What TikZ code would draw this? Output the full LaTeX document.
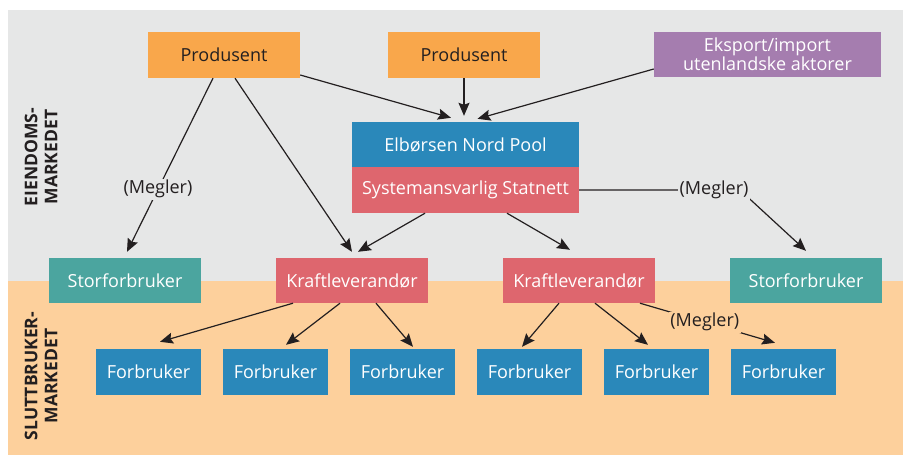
\documentclass[tikz,border=0pt]{standalone}
\usepackage{fontspec}
\setmainfont{Open Sans}
\usetikzlibrary{arrows.meta}

\definecolor{panelgrey}{HTML}{E6E7E7}
\definecolor{panelpeach}{HTML}{FDD09C}
\definecolor{prodorange}{HTML}{F9A74B}
\definecolor{exportpurple}{HTML}{A57DAF}
\definecolor{poolblue}{HTML}{2A88BA}
\definecolor{gridred}{HTML}{DE666E}
\definecolor{bigteal}{HTML}{4BA59F}
\definecolor{inkdark}{HTML}{231F20}

\tikzset{
  box/.style={rectangle, inner sep=0pt, text=white, align=center,
    font=\fontsize{18}{19}\selectfont},
  prodbox/.style={box, fill=prodorange, text=inkdark, minimum width=152pt, minimum height=46pt},
  expbox/.style={box, fill=exportpurple, minimum width=227pt, minimum height=45pt,
    font=\fontsize{18}{16.5}\selectfont},
  poolbox/.style={box, fill=poolblue, minimum width=227pt, minimum height=45pt},
  statbox/.style={box, fill=gridred, minimum width=227pt, minimum height=46pt},
  supbox/.style={box, fill=gridred, minimum width=152pt, minimum height=45pt},
  bigbox/.style={box, fill=bigteal, minimum width=152pt, minimum height=45pt},
  userbox/.style={box, fill=poolblue, minimum width=105pt, minimum height=46pt},
  flow/.style={draw=inkdark, line width=1.2pt,
    -{Stealth[length=13pt,width=11pt,inset=2pt]}},
  broker/.style={inner sep=1.5pt, text=inkdark, font=\fontsize{18}{19}\selectfont},
  sidelabel/.style={rotate=90, align=center, text=inkdark,
    font=\fontsize{17.5}{20}\bfseries\selectfont}
}

\begin{document}
\begin{tikzpicture}[x=1pt,y=-1pt]
\useasboundingbox (0,0) rectangle (903,455);
\fill[white] (0,0) rectangle (903,455);
% the two market bands
\fill[panelgrey] (8,10) rectangle (903,281);
\fill[panelpeach] (8,281) rectangle (903,455);

\node[sidelabel] (wholesale) at (41,157) {EIENDOMS-\\MARKEDET};
\node[sidelabel] (retail) at (41,376) {SLUTTBRUKER-\\MARKEDET};

% producers, exchange and system operator
\node[prodbox] (p1) at (224,55) {Produsent};
\node[prodbox] (p2) at (464,55) {Produsent};
\node[expbox] (eks) at (767.5,54.5) {Eksport/import\\utenlandske aktorer};
\node[poolbox] (nord) at (465.5,144.5) {Elbørsen Nord Pool};
\node[statbox] (stat) at (465.5,190) {Systemansvarlig Statnett};

% suppliers and large consumers
\node[bigbox] (sf1) at (125,280.5) {Storforbruker};
\node[supbox] (kl1) at (352,280.5) {Kraftleverandør};
\node[supbox] (kl2) at (579,280.5) {Kraftleverandør};
\node[bigbox] (sf2) at (806,280.5) {Storforbruker};

% end consumers
\node[userbox] (f1) at (148.5,372) {Forbruker};
\node[userbox] (f2) at (275.5,372) {Forbruker};
\node[userbox] (f3) at (402.5,372) {Forbruker};
\node[userbox] (f4) at (529.5,372) {Forbruker};
\node[userbox] (f5) at (656.5,372) {Forbruker};
\node[userbox] (f6) at (783.5,372) {Forbruker};

% trading into the exchange
\draw[flow] ([yshift=-20pt]p1.east) -- ([xshift=-14.5pt,yshift=4pt]nord.north);
\draw[flow] (p2.south) -- ([yshift=6pt]p2.south |- nord.north);
\draw[flow] ([yshift=-14.5pt]eks.west) -- ([xshift=12pt,yshift=3pt]nord.north);

% producer deliveries
\draw[flow] ([xshift=-11pt]p1.south) --
  node[broker, fill=panelgrey, pos=0.64] (m1) {(Megler)}
  ([xshift=2pt,yshift=6pt]sf1.north);
\draw[flow] ([xshift=11pt]p1.south) -- ([yshift=6pt]kl1.north);

% from the system operator
\draw[flow] ([xshift=-40.5pt]stat.south) -- ([xshift=6pt,yshift=6pt]kl1.north);
\draw[flow] ([xshift=41.5pt]stat.south) -- ([xshift=-9pt,yshift=8pt]kl2.north);
\coordinate (bend) at (740,190);
\draw[flow] (stat.east) -- (bend) -- ([yshift=7pt]sf2.north);
\node[broker, fill=panelgrey] (m2) at (714,190) {(Megler)};

% suppliers to consumers
\draw[flow] ([xshift=-59pt]kl1.south) -- ([xshift=11.5pt,yshift=7pt]f1.north);
\draw[flow] ([xshift=-12pt]kl1.south) -- ([xshift=10.5pt,yshift=4pt]f2.north);
\draw[flow] ([xshift=24pt]kl1.south) -- ([xshift=10.5pt,yshift=2pt]f3.north);
\draw[flow] ([xshift=-20pt]kl2.south) -- ([xshift=-7.5pt,yshift=2pt]f4.north);
\draw[flow] ([xshift=16pt]kl2.south) -- ([xshift=-8.5pt,yshift=4pt]f5.north);
\draw[flow] ([xshift=61pt]kl2.south) --
  node[broker, fill=panelpeach, pos=0.48] (m3) {(Megler)}
  ([xshift=-8.5pt,yshift=6pt]f6.north);
\end{tikzpicture}
\end{document}
